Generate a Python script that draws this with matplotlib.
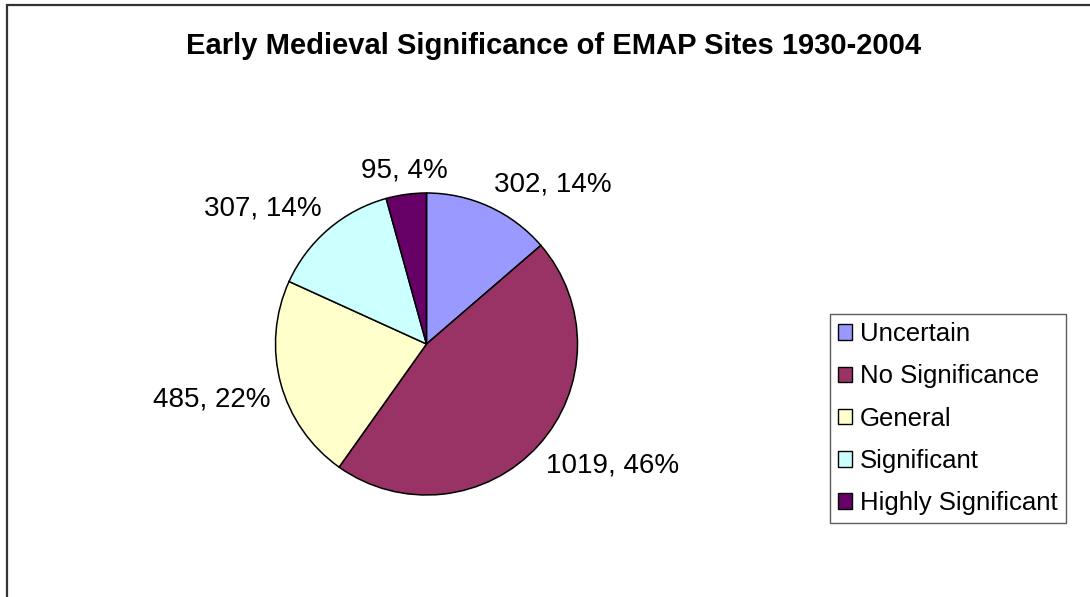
import numpy as np
import matplotlib
matplotlib.use("Agg")
import matplotlib.pyplot as plt
from matplotlib.patches import Patch, Rectangle

plt.rcParams["font.family"] = ["Liberation Sans", "DejaVu Sans"]

categories = ["Uncertain", "No Significance", "General", "Significant", "Highly Significant"]
counts = [302, 1019, 485, 307, 95]
colors = ["#9999FF", "#993366", "#FFFFCC", "#CCFFFF", "#660066"]
title = "Early Medieval Significance of EMAP Sites 1930-2004"

W, H = 1090, 597
fig = plt.figure(figsize=(W / 100, H / 100), dpi=100)
fig.patch.set_facecolor("white")

# outer chart frame (cut off at right and bottom like the source)
fig.patches.append(Rectangle((7 / W, -0.1), 1.2, (H - 5) / H + 0.1,
                             transform=fig.transFigure, fill=False,
                             edgecolor="#333333", linewidth=1.6))

# axes placed so the pie centre sits at (426.5, 344) px, radius 151 px
cx, cy, r = 426.5, 344, 151
half_w, half_h = 2.0, 1.6
ax = fig.add_axes([(cx - half_w * r) / W, (H - cy - half_h * r) / H,
                   2 * half_w * r / W, 2 * half_h * r / H])
wedges, _ = ax.pie(counts, colors=colors, startangle=90, counterclock=False,
                   wedgeprops=dict(edgecolor="black", linewidth=1.1))
ax.set_xlim(-half_w, half_w)
ax.set_ylim(-half_h, half_h)
ax.set_aspect("equal")
ax.axis("off")

total = sum(counts)
dist = 1.07
for w, n in zip(wedges, counts):
    mid = np.deg2rad((w.theta1 + w.theta2) / 2)
    c, s = np.cos(mid), np.sin(mid)
    ha = "center" if abs(c) < 0.2 else ("left" if c > 0 else "right")
    va = "bottom" if s > 0 else "top"
    ax.text(dist * c, dist * s, f"{n}, {round(n / total * 100)}%",
            ha=ha, va=va, fontsize=20)

fig.text(554 / W, 1 - 46 / H, title, ha="center", va="center",
         fontsize=21, fontweight="bold")

handles = [Patch(facecolor=col, edgecolor="black", linewidth=1.0) for col in colors]
leg = fig.legend(handles, categories, loc="upper left",
                 bbox_to_anchor=(830 / W, 1 - 314 / H), fontsize=18.5,
                 frameon=True, fancybox=False, shadow=False,
                 handlelength=0.55, handleheight=0.55, handletextpad=0.3,
                 labelspacing=0.71, borderpad=0.32, borderaxespad=0)
leg.get_frame().set_edgecolor("#333333")
leg.get_frame().set_linewidth(1.0)

fig.savefig("out.png", dpi=100, facecolor="white")
